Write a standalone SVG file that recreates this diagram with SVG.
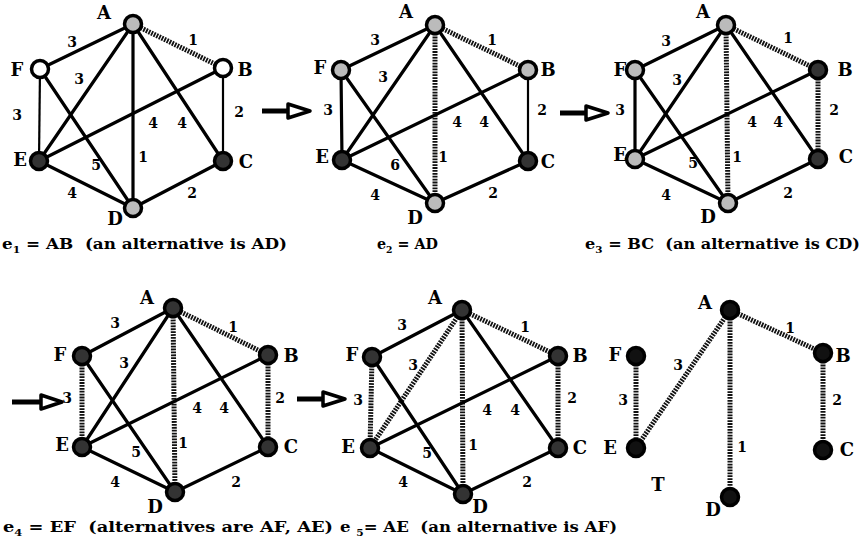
<svg xmlns="http://www.w3.org/2000/svg" width="867" height="550" viewBox="0 0 867 550">
<defs>
<style>
.e{stroke:#000;stroke-width:3.2;fill:none;stroke-linecap:round}
.t{stroke:#000;stroke-width:2.2;fill:none}
.s{stroke:#111;stroke-width:5;stroke-dasharray:1.8 1.1;fill:none}
.n{stroke:#000;stroke-width:3.5}
.dk{fill:#333}
.lt{fill:#bbb}
.wh{fill:#fff}
.bk{fill:#111}
.lbl{font-family:"DejaVu Serif","Liberation Serif",serif;font-weight:bold;font-size:18px;text-anchor:middle;fill:#000}
.w{font-family:"DejaVu Serif","Liberation Serif",serif;font-weight:bold;font-size:14px;text-anchor:middle;fill:#000}
.cap{font-family:"DejaVu Serif","Liberation Serif",serif;font-weight:bold;font-size:15.5px;fill:#000;white-space:pre}
.sub{font-size:10px}
.arr line{stroke:#000;stroke-width:5}
.arr polygon{fill:#fff;stroke:#000;stroke-width:3.5;stroke-linejoin:round}
</style>
</defs>
<rect width="867" height="550" fill="#fff"/>

<!-- connectors -->
<g id="connectors">
 <g id="g1-edges">
  <line class="e" x1="133" y1="24" x2="40" y2="69"/>
  <line class="s" x1="133" y1="24" x2="223" y2="68"/>
  <line class="e" x1="133" y1="24" x2="39" y2="161"/>
  <line class="e" x1="133" y1="24" x2="133" y2="208"/>
  <line class="e" x1="133" y1="24" x2="223" y2="161"/>
  <line class="t" x1="40" y1="69" x2="39" y2="161"/>
  <line class="e" x1="40" y1="69" x2="133" y2="208"/>
  <line class="e" x1="39" y1="161" x2="223" y2="68"/>
  <line class="e" x1="39" y1="161" x2="133" y2="208"/>
  <line class="e" x1="133" y1="208" x2="223" y2="161"/>
  <line class="t" x1="223" y1="68" x2="223" y2="161"/>
 </g>
 <g id="g2-edges">
  <line class="e" x1="435" y1="25" x2="341" y2="70"/>
  <line class="s" x1="435" y1="25" x2="528" y2="70"/>
  <line class="e" x1="435" y1="25" x2="342" y2="160"/>
  <line class="s" x1="435" y1="25" x2="435" y2="203"/>
  <line class="e" x1="435" y1="25" x2="528" y2="161"/>
  <line class="e" x1="341" y1="70" x2="342" y2="160"/>
  <line class="e" x1="341" y1="70" x2="435" y2="203"/>
  <line class="e" x1="342" y1="160" x2="528" y2="70"/>
  <line class="e" x1="342" y1="160" x2="435" y2="203"/>
  <line class="e" x1="435" y1="203" x2="528" y2="161"/>
  <line class="t" x1="528" y1="70" x2="528" y2="161"/>
 </g>
 <g id="g3-edges">
  <line class="e" x1="726" y1="25" x2="635" y2="70"/>
  <line class="s" x1="726" y1="25" x2="818" y2="70"/>
  <line class="e" x1="726" y1="25" x2="635" y2="159"/>
  <line class="s" x1="726" y1="25" x2="728" y2="203"/>
  <line class="e" x1="726" y1="25" x2="818" y2="159"/>
  <line class="e" x1="635" y1="70" x2="635" y2="159"/>
  <line class="e" x1="635" y1="70" x2="728" y2="203"/>
  <line class="e" x1="635" y1="159" x2="818" y2="70"/>
  <line class="e" x1="635" y1="159" x2="728" y2="203"/>
  <line class="e" x1="728" y1="203" x2="818" y2="159"/>
  <line class="s" x1="818" y1="70" x2="818" y2="159"/>
 </g>
 <g id="g4-edges">
  <line class="e" x1="173" y1="308" x2="82" y2="356"/>
  <line class="s" x1="173" y1="308" x2="268" y2="355"/>
  <line class="e" x1="173" y1="308" x2="82" y2="447"/>
  <line class="s" x1="173" y1="308" x2="175" y2="492"/>
  <line class="e" x1="173" y1="308" x2="268" y2="447"/>
  <line class="s" x1="82" y1="356" x2="82" y2="447"/>
  <line class="e" x1="82" y1="356" x2="175" y2="492"/>
  <line class="e" x1="82" y1="447" x2="268" y2="355"/>
  <line class="e" x1="82" y1="447" x2="175" y2="492"/>
  <line class="e" x1="175" y1="492" x2="268" y2="447"/>
  <line class="s" x1="268" y1="355" x2="268" y2="447"/>
 </g>
 <g id="g5-edges">
  <line class="e" x1="462" y1="310" x2="372" y2="357"/>
  <line class="s" x1="462" y1="310" x2="558" y2="356"/>
  <line class="s" x1="462" y1="310" x2="370" y2="448"/>
  <line class="s" x1="462" y1="310" x2="463" y2="494"/>
  <line class="e" x1="462" y1="310" x2="558" y2="448"/>
  <line class="s" x1="372" y1="357" x2="370" y2="448"/>
  <line class="e" x1="372" y1="357" x2="463" y2="494"/>
  <line class="e" x1="370" y1="448" x2="558" y2="356"/>
  <line class="e" x1="370" y1="448" x2="463" y2="494"/>
  <line class="e" x1="463" y1="494" x2="558" y2="448"/>
  <line class="s" x1="558" y1="356" x2="558" y2="448"/>
 </g>
 <g id="g6-edges">
  <line class="s" x1="730" y1="310" x2="823" y2="353"/>
  <line class="s" x1="730" y1="310" x2="636" y2="448"/>
  <line class="s" x1="730" y1="310" x2="730" y2="497"/>
  <line class="s" x1="636" y1="356" x2="636" y2="448"/>
  <line class="s" x1="823" y1="353" x2="823" y2="450"/>
 </g>
 <g id="arrows" class="arr">
  <line x1="262" y1="111" x2="289" y2="111"/><polygon points="288,104 310,111 288,118"/>
  <line x1="560" y1="113" x2="587" y2="113"/><polygon points="586,106 608,113 586,120"/>
  <line x1="12" y1="402" x2="42" y2="402"/><polygon points="41,395 62,402 41,409"/>
  <line x1="297" y1="399" x2="324" y2="399"/><polygon points="323,392 345,399 323,406"/>
 </g>
</g>

<!-- graph 1 -->
<g id="g1-A"><circle class="n lt" cx="133" cy="24" r="8.5"/><text class="lbl" x="104" y="19">A</text></g>
<g id="g1-B"><circle class="n wh" cx="223" cy="68" r="8.5"/><text class="lbl" x="245" y="76">B</text></g>
<g id="g1-C"><circle class="n dk" cx="223" cy="161" r="8.5"/><text class="lbl" x="246" y="168">C</text></g>
<g id="g1-D"><circle class="n lt" cx="133" cy="208" r="8.5"/><text class="lbl" x="115" y="225">D</text></g>
<g id="g1-E"><circle class="n dk" cx="39" cy="161" r="8.5"/><text class="lbl" x="20" y="166">E</text></g>
<g id="g1-F"><circle class="n wh" cx="40" cy="69" r="8.5"/><text class="lbl" x="17" y="76">F</text></g>
<g id="g1-weights">
 <text class="w" x="72" y="47">3</text><text class="w" x="193" y="45">1</text><text class="w" x="79" y="84">3</text>
 <text class="w" x="17" y="120">3</text><text class="w" x="239" y="117">2</text><text class="w" x="153" y="128">4</text>
 <text class="w" x="182" y="128">4</text><text class="w" x="143" y="162">1</text><text class="w" x="96" y="170">5</text>
 <text class="w" x="72" y="198">4</text><text class="w" x="192" y="198">2</text>
</g>

<!-- graph 2 -->
<g id="g2-A"><circle class="n lt" cx="435" cy="25" r="8.5"/><text class="lbl" x="406" y="18">A</text></g>
<g id="g2-B"><circle class="n lt" cx="528" cy="70" r="8.5"/><text class="lbl" x="548" y="76">B</text></g>
<g id="g2-C"><circle class="n dk" cx="528" cy="161" r="8.5"/><text class="lbl" x="548" y="168">C</text></g>
<g id="g2-D"><circle class="n lt" cx="435" cy="203" r="8.5"/><text class="lbl" x="415" y="224">D</text></g>
<g id="g2-E"><circle class="n dk" cx="342" cy="160" r="8.5"/><text class="lbl" x="322" y="163">E</text></g>
<g id="g2-F"><circle class="n lt" cx="341" cy="70" r="8.5"/><text class="lbl" x="320" y="74">F</text></g>
<g id="g2-weights">
 <text class="w" x="375" y="45">3</text><text class="w" x="492" y="45">1</text><text class="w" x="383" y="82">3</text>
 <text class="w" x="328" y="115">3</text><text class="w" x="542" y="115">2</text><text class="w" x="457" y="127">4</text>
 <text class="w" x="484" y="127">4</text><text class="w" x="443" y="162">1</text><text class="w" x="395" y="170">6</text>
 <text class="w" x="375" y="200">4</text><text class="w" x="493" y="198">2</text>
</g>

<!-- graph 3 -->
<g id="g3-A"><circle class="n lt" cx="726" cy="25" r="8.5"/><text class="lbl" x="703" y="18">A</text></g>
<g id="g3-B"><circle class="n dk" cx="818" cy="70" r="8.5"/><text class="lbl" x="845" y="76">B</text></g>
<g id="g3-C"><circle class="n dk" cx="818" cy="159" r="8.5"/><text class="lbl" x="846" y="163">C</text></g>
<g id="g3-D"><circle class="n lt" cx="728" cy="203" r="8.5"/><text class="lbl" x="708" y="223">D</text></g>
<g id="g3-E"><circle class="n lt" cx="635" cy="159" r="8.5"/><text class="lbl" x="620" y="161">E</text></g>
<g id="g3-F"><circle class="n lt" cx="635" cy="70" r="8.5"/><text class="lbl" x="620" y="76">F</text></g>
<g id="g3-weights">
 <text class="w" x="666" y="46">3</text><text class="w" x="788" y="43">1</text><text class="w" x="677" y="85">3</text>
 <text class="w" x="620" y="115">3</text><text class="w" x="834" y="115">2</text><text class="w" x="752" y="127">4</text>
 <text class="w" x="778" y="127">4</text><text class="w" x="737" y="162">1</text><text class="w" x="693" y="168">5</text>
 <text class="w" x="666" y="200">4</text><text class="w" x="788" y="198">2</text>
</g>

<!-- graph 4 -->
<g id="g4-A"><circle class="n dk" cx="173" cy="308" r="8.5"/><text class="lbl" x="147" y="304">A</text></g>
<g id="g4-B"><circle class="n dk" cx="268" cy="355" r="8.5"/><text class="lbl" x="291" y="362">B</text></g>
<g id="g4-C"><circle class="n dk" cx="268" cy="447" r="8.5"/><text class="lbl" x="291" y="453">C</text></g>
<g id="g4-D"><circle class="n dk" cx="175" cy="492" r="8.5"/><text class="lbl" x="155" y="513">D</text></g>
<g id="g4-E"><circle class="n dk" cx="82" cy="447" r="8.5"/><text class="lbl" x="62" y="451">E</text></g>
<g id="g4-F"><circle class="n dk" cx="82" cy="356" r="8.5"/><text class="lbl" x="60" y="361">F</text></g>
<g id="g4-weights">
 <text class="w" x="115" y="328">3</text><text class="w" x="233" y="332">1</text><text class="w" x="124" y="368">3</text>
 <text class="w" x="67" y="403">3</text><text class="w" x="280" y="403">2</text><text class="w" x="197" y="413">4</text>
 <text class="w" x="224" y="413">4</text><text class="w" x="183" y="448">1</text><text class="w" x="136" y="457">5</text>
 <text class="w" x="115" y="487">4</text><text class="w" x="236" y="487">2</text>
</g>

<!-- graph 5 -->
<g id="g5-A"><circle class="n dk" cx="462" cy="310" r="8.5"/><text class="lbl" x="435" y="304">A</text></g>
<g id="g5-B"><circle class="n dk" cx="558" cy="356" r="8.5"/><text class="lbl" x="580" y="362">B</text></g>
<g id="g5-C"><circle class="n dk" cx="558" cy="448" r="8.5"/><text class="lbl" x="580" y="454">C</text></g>
<g id="g5-D"><circle class="n dk" cx="463" cy="494" r="8.5"/><text class="lbl" x="480" y="513">D</text></g>
<g id="g5-E"><circle class="n dk" cx="370" cy="448" r="8.5"/><text class="lbl" x="348" y="453">E</text></g>
<g id="g5-F"><circle class="n dk" cx="372" cy="357" r="8.5"/><text class="lbl" x="352" y="361">F</text></g>
<g id="g5-weights">
 <text class="w" x="402" y="330">3</text><text class="w" x="525" y="332">1</text><text class="w" x="413" y="370">3</text>
 <text class="w" x="358" y="405">3</text><text class="w" x="572" y="403">2</text><text class="w" x="487" y="415">4</text>
 <text class="w" x="515" y="415">4</text><text class="w" x="473" y="450">1</text><text class="w" x="427" y="458">5</text>
 <text class="w" x="403" y="487">4</text><text class="w" x="527" y="487">2</text>
</g>

<!-- graph 6 (tree T) -->
<g id="g6-A"><circle class="n bk" cx="730" cy="310" r="8.5"/><text class="lbl" x="705" y="309">A</text></g>
<g id="g6-B"><circle class="n bk" cx="823" cy="353" r="8.5"/><text class="lbl" x="843" y="362">B</text></g>
<g id="g6-C"><circle class="n bk" cx="823" cy="450" r="8.5"/><text class="lbl" x="847" y="456">C</text></g>
<g id="g6-D"><circle class="n bk" cx="730" cy="497" r="8.5"/><text class="lbl" x="713" y="516">D</text></g>
<g id="g6-E"><circle class="n bk" cx="636" cy="448" r="8.5"/><text class="lbl" x="610" y="454">E</text></g>
<g id="g6-F"><circle class="n bk" cx="636" cy="356" r="8.5"/><text class="lbl" x="615" y="361">F</text></g>
<g id="g6-weights">
 <text class="w" x="790" y="333">1</text><text class="w" x="678" y="370">3</text><text class="w" x="623" y="405">3</text>
 <text class="w" x="837" y="405">2</text><text class="w" x="742" y="452">1</text>
</g>
<text class="lbl" x="658" y="491">T</text>

<!-- captions -->
<g id="captions">
 <text class="cap" x="2" y="249" textLength="285" lengthAdjust="spacingAndGlyphs">e<tspan class="sub" dy="4">1</tspan><tspan dy="-4"> = AB  (an alternative is AD)</tspan></text>
 <text class="cap" x="377" y="249" textLength="61" lengthAdjust="spacingAndGlyphs">e<tspan class="sub" dy="4">2</tspan><tspan dy="-4"> = AD</tspan></text>
 <text class="cap" x="585" y="249" textLength="275" lengthAdjust="spacingAndGlyphs">e<tspan class="sub" dy="4">3</tspan><tspan dy="-4"> = BC  (an alternative is CD)</tspan></text>
 <text class="cap" x="3" y="532" textLength="330" lengthAdjust="spacingAndGlyphs">e<tspan class="sub" dy="4">4</tspan><tspan dy="-4"> = EF  (alternatives are AF, AE)</tspan></text>
 <text class="cap" x="340" y="532" textLength="277" lengthAdjust="spacingAndGlyphs">e <tspan class="sub" dy="4">5</tspan><tspan dy="-4">= AE  (an alternative is AF)</tspan></text>
</g>
</svg>
